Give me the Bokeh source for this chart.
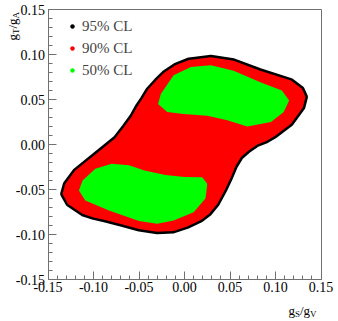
import numpy as np
from bokeh.plotting import figure
from bokeh.models import (Legend, LegendItem, Label, FixedTicker, LinearAxis,
                          NumeralTickFormatter, Range1d)
from bokeh.embed import file_html
from bokeh.resources import INLINE

# ---------------- data ----------------
cl95_x = [0.029, 0.054, 0.083, 0.117, 0.129, 0.133, 0.130, 0.117, 0.100, 0.090,
          0.080, 0.070, 0.062, 0.056, 0.051, 0.044, 0.036, 0.027, 0.018, 0.003,
          -0.012, -0.030, -0.050, -0.068, -0.087, -0.100, -0.112, -0.128, -0.134,
          -0.131, -0.120, -0.098, -0.076, -0.066, -0.058, -0.052, -0.046, -0.040,
          -0.031, -0.022, -0.010, 0.005]
cl95_y = [0.097, 0.093, 0.082, 0.071, 0.062, 0.053, 0.041, 0.023, 0.010, 0.004,
          0.000, -0.007, -0.014, -0.024, -0.036, -0.051, -0.066, -0.077, -0.084, -0.091,
          -0.096, -0.097, -0.094, -0.089, -0.084, -0.081, -0.077, -0.066, -0.055,
          -0.044, -0.029, -0.011, 0.007, 0.020, 0.031, 0.042, 0.051, 0.061,
          0.071, 0.080, 0.088, 0.094]
cl90_x = cl95_x
cl90_y = cl95_y
cl50a_x = [-0.029, -0.026, -0.012, 0.007, 0.029, 0.054, 0.084, 0.107, 0.115,
           0.109, 0.095, 0.069, 0.047, 0.025, -0.001, -0.019]
cl50a_y = [0.045, 0.056, 0.077, 0.086, 0.088, 0.082, 0.069, 0.060, 0.049,
           0.036, 0.025, 0.020, 0.027, 0.032, 0.034, 0.036]
cl50b_x = [-0.116, -0.112, -0.098, -0.080, -0.061, -0.044, -0.021, 0.000, 0.0195,
           0.025, 0.024, 0.023, 0.010, -0.012, -0.030, -0.050, -0.083, -0.109]
cl50b_y = [-0.051, -0.040, -0.027, -0.0215, -0.023, -0.029, -0.034, -0.036, -0.0363,
           -0.0437, -0.053, -0.060, -0.0752, -0.0844, -0.088, -0.085, -0.0733, -0.0622]

legend_labels = ["95% CL", "90% CL", "50% CL"]
legend_colors = ["#000000", "#ff0000", "#00ff00"]

axis_lo, axis_hi = -0.15, 0.15
major_ticks = [-0.15, -0.10, -0.05, 0.0, 0.05, 0.10, 0.15]
minor_ticks = [round(v * 0.01, 2) for v in range(-15, 16)]

# ---------------- layout (pixels) ----------------
W, H = 338, 321
FL, FR, FT, FB = 47.5, 320.5, 9.0, 279.0
sx = (axis_hi - axis_lo) / (FR - FL)
sy = (axis_hi - axis_lo) / (FB - FT)
x_range = Range1d(axis_lo - FL * sx, axis_hi + (W - FR) * sx)
y_range = Range1d(axis_lo - (H - FB) * sy, axis_hi + FT * sy)

FONT = "Liberation Serif"
AXC = "#707070"

p = figure(width=W, height=H, output_backend="svg", toolbar_location=None,
           x_range=x_range, y_range=y_range, min_border=0,
           min_border_left=0, min_border_right=0, min_border_top=0,
           min_border_bottom=0)
p.xgrid.visible = False
p.ygrid.visible = False
p.background_fill_color = "white"
p.border_fill_color = "white"
p.outline_line_color = None

p.patch(cl95_x, cl95_y, fill_color="#000000", line_color="#000000", line_width=5)
p.patch(cl90_x, cl90_y, fill_color="#ff0000", line_color=None)
p.patch(cl50a_x, cl50a_y, fill_color="#00ff00", line_color=None)
p.patch(cl50b_x, cl50b_y, fill_color="#00ff00", line_color=None)

for ax in (p.xaxis[0], p.yaxis[0]):
    ax.fixed_location = axis_lo
    ax.bounds = (axis_lo, axis_hi)
    ax.ticker = FixedTicker(ticks=major_ticks, minor_ticks=minor_ticks)
    ax.formatter = NumeralTickFormatter(format="0.00")
    ax.axis_line_color = AXC
    ax.major_tick_line_color = AXC
    ax.minor_tick_line_color = AXC
    ax.major_tick_in = 8
    ax.major_tick_out = 0
    ax.minor_tick_in = 4
    ax.minor_tick_out = 0
    ax.major_label_text_font = FONT
    ax.major_label_text_font_size = "14px"
    ax.major_label_text_color = "black"
p.xaxis.major_label_standoff = 2
p.yaxis.major_label_standoff = 3

# frame lines on top and right
for side in ("above", "right"):
    ax = LinearAxis(fixed_location=axis_hi, bounds=(axis_lo, axis_hi),
                    ticker=FixedTicker(ticks=[], minor_ticks=[]),
                    axis_line_color=AXC, major_tick_line_color=None,
                    minor_tick_line_color=None, major_label_text_alpha=0)
    p.add_layout(ax, side)

items = []
for lab_, col in zip(legend_labels, legend_colors):
    r = p.scatter(x=[np.nan], y=[np.nan], marker="circle", size=3,
                  fill_color=col, line_color=col, line_width=0.5)
    items.append(LegendItem(label=lab_, renderers=[r]))
legend = Legend(items=items, location=(67, H - 80), glyph_width=10, glyph_height=20,
                label_height=20, spacing=2, label_standoff=5, padding=0, margin=0,
                label_text_font=FONT, label_text_font_size="15px",
                background_fill_alpha=0, border_line_alpha=0)
p.add_layout(legend)

def lab(text, x, y, size, angle=0.0):
    p.add_layout(Label(x=x, y=y, x_units="screen", y_units="screen", text=text,
                       text_font=FONT, text_font_size=f"{size}px",
                       text_baseline="alphabetic", text_align="left",
                       angle=angle, text_color="black"))

# x title g_S/g_V (bottom right)
lab("g", 288, H - 310, 13)
lab("S", 294.5, H - 313, 9)
lab("/g", 299.5, H - 310, 13)
lab("V", 309.6, H - 313, 9)
# y title g_T/g_A (rotated, top left)
A = np.pi / 2
lab("g", 12, H - 40, 13, A)
lab("T", 15, H - 33.5, 9, A)
lab("/g", 12, H - 28, 13, A)
lab("A", 15, H - 18, 9, A)

open("out.html", "w").write(file_html(p, INLINE))
